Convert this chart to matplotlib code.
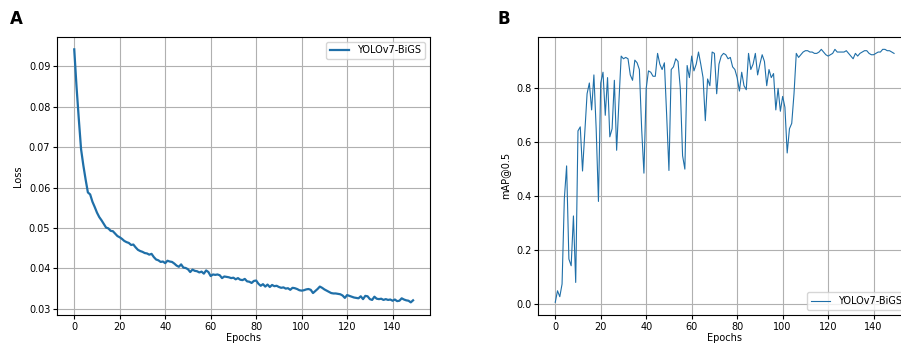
import matplotlib
matplotlib.use("Agg")
import matplotlib.pyplot as plt

epochs = list(range(150))

loss = [
    0.0942, 0.0850, 0.0770, 0.0695, 0.0655, 0.0620, 0.0588, 0.0583, 0.0565, 0.0552,
    0.0538, 0.0527, 0.0519, 0.0510, 0.0501, 0.0499, 0.0493, 0.0492, 0.0486, 0.0480,
    0.0477, 0.0473, 0.0468, 0.0465, 0.0463, 0.0458, 0.0459, 0.0452, 0.0446, 0.0443,
    0.0441, 0.0438, 0.0437, 0.0434, 0.0436, 0.0428, 0.0422, 0.0420, 0.0416, 0.0417,
    0.0413, 0.0419, 0.0417, 0.0416, 0.0412, 0.0407, 0.0404, 0.0410, 0.0402, 0.0401,
    0.0398, 0.0391, 0.0397, 0.0394, 0.0393, 0.0390, 0.0392, 0.0387, 0.0395, 0.0391,
    0.0381, 0.0385, 0.0384, 0.0385, 0.0383, 0.0376, 0.0380, 0.0379, 0.0378, 0.0376,
    0.0377, 0.0373, 0.0376, 0.0372, 0.0371, 0.0374, 0.0368, 0.0367, 0.0364, 0.0369,
    0.0370, 0.0362, 0.0357, 0.0361, 0.0355, 0.0360, 0.0354, 0.0359, 0.0356, 0.0357,
    0.0354, 0.0352, 0.0353, 0.0350, 0.0351, 0.0347, 0.0352, 0.0351, 0.0349, 0.0346,
    0.0345, 0.0346, 0.0348, 0.0349, 0.0347, 0.0339, 0.0344, 0.0349, 0.0355, 0.0352,
    0.0348, 0.0345, 0.0342, 0.0339, 0.0338, 0.0338, 0.0337, 0.0336, 0.0333, 0.0327,
    0.0334, 0.0332, 0.0330, 0.0328, 0.0327, 0.0326, 0.0331, 0.0324, 0.0332, 0.0331,
    0.0324, 0.0322, 0.0330, 0.0325, 0.0324, 0.0325, 0.0322, 0.0324, 0.0322, 0.0323,
    0.0320, 0.0323, 0.0319, 0.0320, 0.0326, 0.0323, 0.0321, 0.0320, 0.0316, 0.0321,
]

map50 = [
    0.005, 0.048, 0.026, 0.073, 0.390, 0.512, 0.166, 0.141, 0.326, 0.079,
    0.642, 0.657, 0.493, 0.640, 0.780, 0.820, 0.720, 0.850, 0.650, 0.380,
    0.820, 0.860, 0.700, 0.840, 0.620, 0.650, 0.830, 0.570, 0.750, 0.920,
    0.910, 0.915, 0.910, 0.850, 0.830, 0.905, 0.895, 0.870, 0.650, 0.485,
    0.800, 0.865, 0.860, 0.845, 0.845, 0.930, 0.890, 0.870, 0.895, 0.700,
    0.495, 0.870, 0.880, 0.910, 0.900, 0.800, 0.550, 0.500, 0.885, 0.840,
    0.920, 0.865, 0.890, 0.935, 0.890, 0.840, 0.680, 0.835, 0.810, 0.935,
    0.930, 0.780, 0.890, 0.920, 0.930, 0.925, 0.910, 0.915, 0.880, 0.870,
    0.840, 0.790, 0.860, 0.810, 0.795, 0.930, 0.870, 0.890, 0.930, 0.850,
    0.890, 0.925, 0.900, 0.810, 0.870, 0.840, 0.855, 0.720, 0.800, 0.715,
    0.770, 0.730, 0.560, 0.650, 0.670, 0.780, 0.930, 0.915, 0.925, 0.935,
    0.940, 0.940, 0.935, 0.935, 0.930, 0.930, 0.935, 0.945, 0.935, 0.925,
    0.920, 0.925, 0.930, 0.945, 0.935, 0.935, 0.935, 0.935, 0.940, 0.930,
    0.920, 0.910, 0.930, 0.920, 0.930, 0.935, 0.940, 0.940, 0.930, 0.925,
    0.925, 0.930, 0.935, 0.935, 0.945, 0.945, 0.940, 0.940, 0.935, 0.930,
]

series_name = "YOLOv7-BiGS"
color = "#1f6fa8"
fs = 7

fig = plt.figure(figsize=(9.01, 3.47), dpi=100)
W, H = 901, 347

def pos(l, r, t, b):
    return [l / W, 1 - b / H, (r - l) / W, (b - t) / H]

axA = fig.add_axes(pos(57.3, 430, 36.7, 315))
axB = fig.add_axes(pos(538.3, 911, 36.7, 315))

axA.plot(epochs, loss, color=color, lw=1.6, label=series_name)
axA.set_xlabel("Epochs", fontsize=fs, labelpad=1)
axA.set_ylabel("Loss", fontsize=fs)
axA.legend(loc="upper right", fontsize=fs)

axB.plot(epochs, map50, color=color, lw=0.8, label=series_name)
axB.set_xlabel("Epochs", fontsize=fs, labelpad=1)
axB.set_ylabel("mAP@0.5", fontsize=fs)
axB.legend(loc="lower right", fontsize=fs)

for ax in (axA, axB):
    ax.grid(True, color="#b0b0b0", lw=0.8)
    ax.tick_params(labelsize=fs, length=3, pad=2)
    for s in ax.spines.values():
        s.set_linewidth(0.8)

fig.text(10 / W, 1 - 19 / H, "A", fontsize=12, fontweight="bold", va="center")
fig.text(497 / W, 1 - 19 / H, "B", fontsize=12, fontweight="bold", va="center")

fig.savefig("out.png", dpi=100)
